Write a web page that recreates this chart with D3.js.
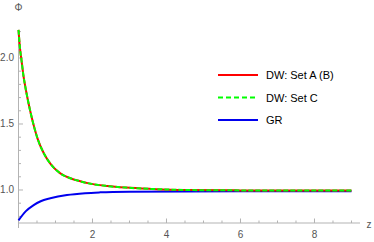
<!DOCTYPE html>
<html>
<head>
<meta charset="utf-8">
<style>
  body { margin: 0; background: #fff; }
  svg { display: block; font-family: "Liberation Sans", Arial, sans-serif; }
</style>
</head>
<body>
<script src="https://d3js.org/d3.v7.min.js"></script>
<script>
// values (z, Phi)
var dwZ   = [0, 0.04, 0.085, 0.13, 0.19, 0.26, 0.34, 0.43, 0.52, 0.68, 0.86, 1.13, 1.40, 1.67, 1.9, 2.4, 2.9, 3.6, 4.5, 6.0, 7.5, 9.0];
var dwPhi = [2.213, 2.075, 1.975, 1.873, 1.773, 1.672, 1.57, 1.47, 1.385, 1.28, 1.20, 1.126, 1.089, 1.066, 1.05, 1.03, 1.018, 1.008, 1.0, 0.997, 0.996, 0.996];
var grZ   = [0, 0.2, 0.41, 0.6, 0.86, 1.31, 1.8, 2.2, 3.0, 4.5, 6.0, 7.5, 9.0];
var grPhi = [0.77, 0.84, 0.886, 0.915, 0.937, 0.962, 0.976, 0.982, 0.987, 0.989, 0.99, 0.99, 0.99];

var xTicks = [2, 4, 6, 8];
var yTicks = [1.0, 1.5, 2.0];
var legendLabels = ["DW: Set A (B)", "DW: Set C", "GR"];

const width = 374, height = 242;

var svg = d3.select("body").append("svg")
    .attr("width", width)
    .attr("height", height);

var x = d3.scaleLinear().domain([0, 9.23]).range([18.5, 360]);
var y = d3.scaleLinear().domain([0.75, 2.212]).range([223, 30]);

var axisCol = "#b3b3b3", labelCol = "#555";

// minor ticks
var xMinor = d3.range(0.5, 9.1, 0.5).filter(function(v){ return v % 2 != 0; });
var yMinor = d3.range(0.8, 2.21, 0.1).filter(function(v){ return Math.abs(v*2 - Math.round(v*2)) > 0.01; });

// x axis
var gx = svg.append("g").attr("transform", "translate(0," + y(0.75) + ")");
gx.append("line").attr("x1", x(0)).attr("x2", x(9.23)).attr("stroke", axisCol);
gx.selectAll(".minor").data(xMinor).enter().append("line")
    .attr("x1", d => x(d)).attr("x2", d => x(d)).attr("y1", 0).attr("y2", -2.5)
    .attr("stroke", axisCol);
gx.selectAll(".major").data(xTicks).enter().append("line")
    .attr("x1", d => x(d)).attr("x2", d => x(d)).attr("y1", 0).attr("y2", -4.5)
    .attr("stroke", axisCol);
gx.selectAll("text").data(xTicks).enter().append("text")
    .attr("x", d => x(d)).attr("y", 15)
    .attr("text-anchor", "middle").attr("font-size", 10).attr("fill", labelCol)
    .text(d => d);
// small tick below origin
gx.append("line").attr("x1", x(0)).attr("x2", x(0)).attr("y1", 0).attr("y2", 5).attr("stroke", axisCol);

// y axis
var gy = svg.append("g").attr("transform", "translate(" + x(0) + ",0)");
gy.append("line").attr("y1", y(0.75)).attr("y2", y(2.212)).attr("stroke", axisCol);
gy.selectAll(".minor").data(yMinor).enter().append("line")
    .attr("y1", d => y(d)).attr("y2", d => y(d)).attr("x1", 0).attr("x2", 2.5)
    .attr("stroke", axisCol);
gy.selectAll(".major").data(yTicks).enter().append("line")
    .attr("y1", d => y(d)).attr("y2", d => y(d)).attr("x1", 0).attr("x2", 4.5)
    .attr("stroke", axisCol);
gy.selectAll("text").data(yTicks).enter().append("text")
    .attr("x", -4.5).attr("y", d => y(d) + 3.5)
    .attr("text-anchor", "end").attr("font-size", 10).attr("fill", labelCol)
    .text(d => d.toFixed(1));

svg.append("text").attr("x", x(0)).attr("y", 11).attr("text-anchor", "middle")
    .attr("font-size", 10).attr("fill", labelCol).text("Φ");
svg.append("text").attr("x", 369).attr("y", 228).attr("text-anchor", "middle")
    .attr("font-size", 10).attr("fill", labelCol).text("z");

// curves
var line = d3.line().x(d => x(d[0])).y(d => y(d[1])).curve(d3.curveMonotoneX);
var dw = d3.zip(dwZ, dwPhi), gr = d3.zip(grZ, grPhi);

svg.append("path").datum(gr).attr("d", line)
    .attr("fill", "none").attr("stroke", "#0000ee").attr("stroke-width", 2);
svg.append("path").datum(dw).attr("d", line)
    .attr("fill", "none").attr("stroke", "#ff0000").attr("stroke-width", 2);
svg.append("path").datum(dw).attr("d", line)
    .attr("fill", "none").attr("stroke", "#00ff00").attr("stroke-width", 2)
    .attr("stroke-dasharray", "5,2");

// legend
var legCols = ["#ff0000", "#00ff00", "#0000ee"];
var legDash = [null, "5,3", null];
var lg = svg.append("g");
legendLabels.forEach(function(t, i){
  var yy = 75 + i * 22.5;
  lg.append("line").attr("x1", 218).attr("x2", 258).attr("y1", yy).attr("y2", yy)
    .attr("stroke", legCols[i]).attr("stroke-width", 2)
    .attr("stroke-dasharray", legDash[i]);
  lg.append("text").attr("x", 266).attr("y", yy + 4).attr("font-size", 11)
    .attr("fill", "#000").text(t);
});
</script>
</body>
</html>
